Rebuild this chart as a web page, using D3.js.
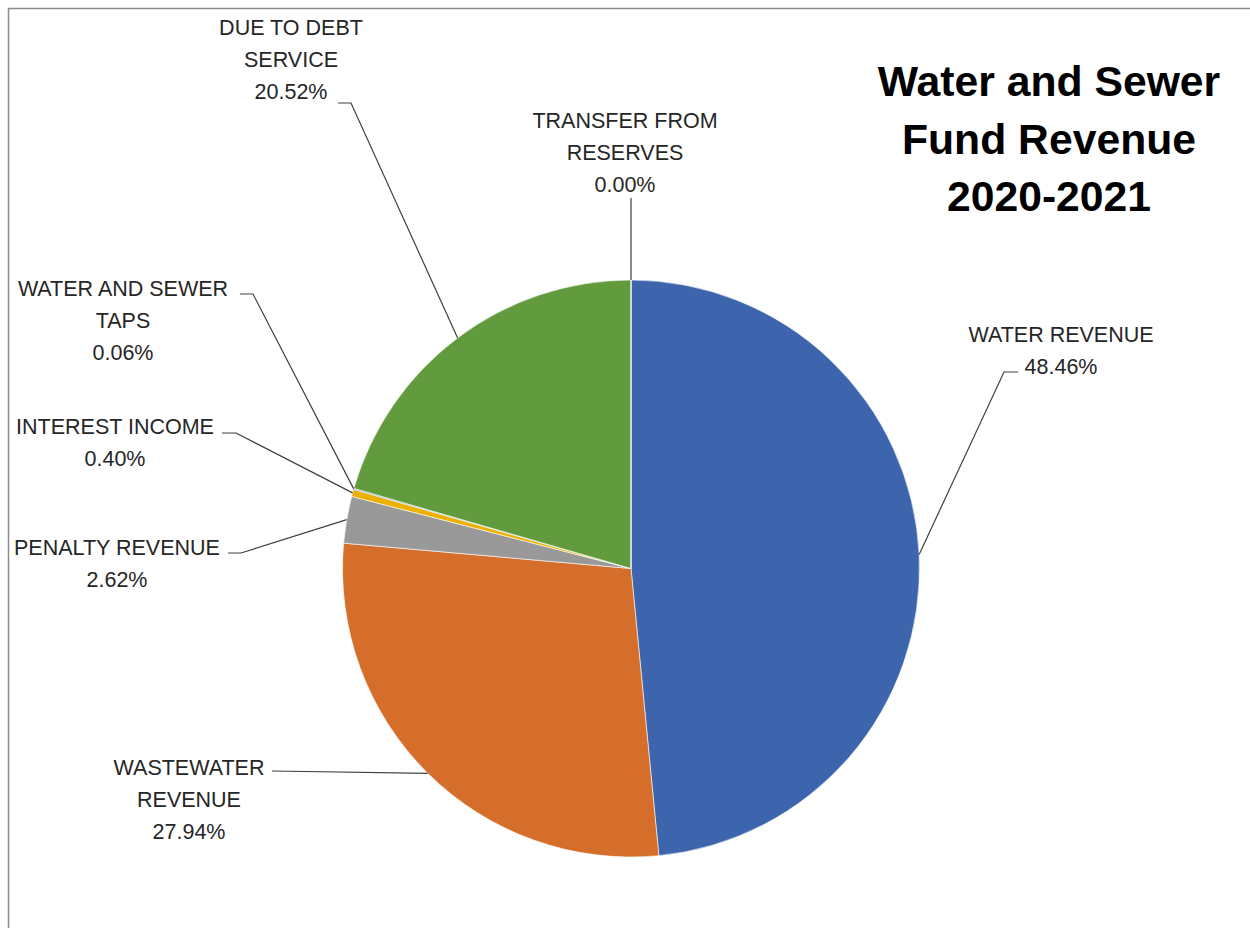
<!DOCTYPE html>
<html>
<head>
<meta charset="utf-8">
<script src="https://cdn.jsdelivr.net/npm/d3@7"></script>
<style>
  body { margin: 0; background: #fff; }
  svg text { font-family: "Liberation Sans", Arial, sans-serif; fill: #262626; }
</style>
</head>
<body>
<svg id="chart" width="1250" height="928"></svg>
<script>
// slices, clockwise from 12 o'clock
const categories = ["WATER REVENUE", "WASTEWATER REVENUE", "PENALTY REVENUE", "INTEREST INCOME",
                    "WATER AND SEWER TAPS", "DUE TO DEBT SERVICE", "TRANSFER FROM RESERVES"];
const percents = [48.46, 27.94, 2.62, 0.40, 0.06, 20.52, 0.00];
const colors = ["#3d65ae", "#d46e2a", "#999999", "#edb000", "#4f86c0", "#629a3e", "#264478"];
// how each label wraps
const labelLines = [
  ["WATER REVENUE"], ["WASTEWATER", "REVENUE"], ["PENALTY REVENUE"], ["INTEREST INCOME"],
  ["WATER AND SEWER", "TAPS"], ["DUE TO DEBT", "SERVICE"], ["TRANSFER FROM", "RESERVES"]
];
const titleLines = ["Water and Sewer", "Fund Revenue", "2020-2021"];

// layout: label centre x, first baseline, and the elbow of each leader line
const labelPos = {
  "WATER REVENUE":          { x: 1061, y: 342, elbow: [[1018, 372], [1004, 372]] },
  "WASTEWATER REVENUE":     { x: 189,  y: 775, elbow: [[272, 771]] },
  "PENALTY REVENUE":        { x: 117,  y: 555, elbow: [[228, 553], [241, 553]] },
  "INTEREST INCOME":        { x: 115,  y: 434, elbow: [[222, 433], [236, 433]] },
  "WATER AND SEWER TAPS":   { x: 123,  y: 296, elbow: [[240, 294], [253, 294]] },
  "DUE TO DEBT SERVICE":    { x: 291,  y: 35,  elbow: [[338, 103], [351, 103]] },
  "TRANSFER FROM RESERVES": { x: 625,  y: 128, elbow: [[631, 198]] }
};

const svg = d3.select("#chart");
const cx = 631, cy = 568.5, r = 288.5;
const lineH = 32;

svg.append("rect").attr("x", 8.5).attr("y", 8.5).attr("width", 1270).attr("height", 960)
  .attr("fill", "none").attr("stroke", "#8c8c8c").attr("stroke-width", 1.5);

const rows = categories.map((c, i) => ({ name: c, value: percents[i], color: colors[i], lines: labelLines[i] }));

const pie = d3.pie().sort(null).value(d => d.value);
const arc = d3.arc().innerRadius(0).outerRadius(r);
const arcs = pie(rows);

const g = svg.append("g").attr("transform", `translate(${cx},${cy})`);
g.selectAll("path").data(arcs).enter().append("path")
  .attr("d", arc)
  .attr("fill", d => d.data.color)
  .attr("stroke", "#fff").attr("stroke-width", 0.6);

// leader lines
const line = d3.line();
arcs.forEach(a => {
  const p = labelPos[a.data.name];
  const mid = (a.startAngle + a.endAngle) / 2;
  const edge = [cx + r * Math.sin(mid), cy - r * Math.cos(mid)];
  const pts = p.elbow.concat([edge]);
  svg.append("path").attr("d", line(pts))
    .attr("fill", "none").attr("stroke", "#404040").attr("stroke-width", 1.2);
});

// labels
arcs.forEach(a => {
  const p = labelPos[a.data.name];
  const t = svg.append("text").attr("text-anchor", "middle").style("font-size", "21.5px");
  const lines = a.data.lines.concat([d3.format(".2f")(a.data.value) + "%"]);
  lines.forEach((s, k) => {
    t.append("tspan").attr("x", p.x).attr("y", p.y + k * lineH).text(s);
  });
});

// title
svg.append("text").attr("text-anchor", "middle")
  .style("font-size", "42.7px").style("font-weight", "bold").style("fill", "#000")
  .selectAll("tspan").data(titleLines).enter().append("tspan")
  .attr("x", 1049).attr("y", (d, i) => 96 + i * 57.5).text(d => d);
</script>
</body>
</html>
